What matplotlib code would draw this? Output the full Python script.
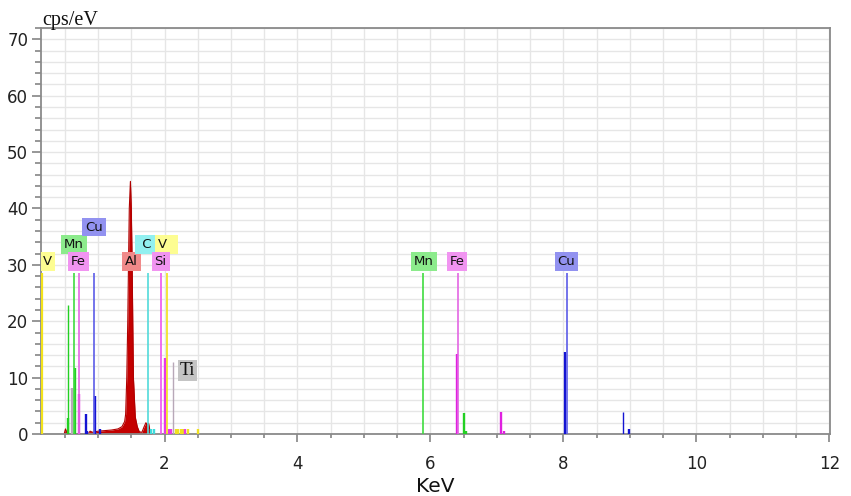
import matplotlib
matplotlib.use('Agg')
import matplotlib.pyplot as plt
from matplotlib.ticker import MultipleLocator

# ---------------- data ----------------
# element marker lines (KLM markers)
marker_element = ['Si', 'V', 'Mn', 'Fe', 'Cu', 'C', 'Si', 'V', 'Mn', 'Fe', 'Cu']
marker_keV = [0.145, 0.158, 0.643, 0.713, 0.944, 1.747, 1.944, 2.040, 5.895, 6.410, 8.050]
marker_cps = [28.5, 28.5, 28.5, 28.5, 28.5, 28.5, 28.5, 28.5, 28.5, 28.5, 28.5]

# spectrum peak lines
peak_element = ['Mn', 'Mn', 'Ti', 'Mn', 'Fe', 'Cu', 'Cu', 'Cu', 'Cu',
                'C', 'C', 'Si', 'Si', 'Si', 'Ti',
                'V', 'V', 'V', 'V', 'Si', 'V', 'V',
                'Fe', 'Mn', 'Mn', 'Fe', 'Fe', 'Cu', 'Cu', 'Cu']
peak_keV = [0.552, 0.552, 0.613, 0.648, 0.718, 0.814, 0.839, 0.948, 1.030,
            1.800, 1.840, 2.008, 2.065, 2.090, 2.123,
            2.175, 2.210, 2.245, 2.280, 2.310, 2.350, 2.510,
            6.400, 6.500, 6.540, 7.060, 7.110, 8.030, 8.900, 8.980]
peak_cps = [22.9, 2.8, 8.2, 11.7, 7.1, 3.6, 0.5, 6.8, 0.8,
            0.8, 0.9, 13.5, 0.9, 0.9, 12.8,
            0.8, 0.8, 0.8, 0.8, 0.8, 0.8, 0.9,
            14.2, 3.7, 0.5, 3.9, 0.5, 14.6, 3.9, 0.9]
peak_thin = [True, False, False, False, False, False, False, False, False,
             False, False, False, False, False, True,
             False, False, False, False, False, False, False,
             False, False, False, False, False, False, True, False]

# measured Al-rich spectrum (filled red)
al_keV = [0.49, 0.51, 0.53, 0.56, 0.85, 0.88, 0.92, 1.00, 1.10, 1.20, 1.30,
          1.36, 1.40, 1.415, 1.432, 1.447, 1.458, 1.47, 1.487, 1.50, 1.513,
          1.522, 1.532, 1.56, 1.59, 1.62, 1.66, 1.69, 1.72, 1.74, 1.76, 1.78, 1.81]
al_cps = [0.0, 0.9, 0.3, 0.0, 0.0, 0.5, 0.3, 0.5, 0.6, 0.7, 0.9,
          1.3, 2.2, 3.5, 10.0, 20.0, 30.0, 40.0, 44.8, 40.0, 30.0,
          20.0, 10.0, 3.0, 1.3, 0.4, 0.3, 1.2, 2.0, 1.6, 1.9, 0.6, 0.0]

# labels
label_text = ['V', 'Mn', 'Fe', 'Cu', 'Al', ' C ', 'V  ', 'Si', 'Mn', 'Fe', 'Cu']
label_element = ['V', 'Mn', 'Fe', 'Cu', 'Al', 'C', 'V', 'Si', 'Mn', 'Fe', 'Cu']
label_keV = [0.24, 0.638, 0.703, 0.939, 1.506, 1.734, 1.895, 1.94, 5.90, 6.40, 8.045]
label_cps = [30.6, 33.6, 30.6, 36.7, 30.6, 33.6, 33.6, 30.6, 30.6, 30.6, 30.6]
label_ha = ['center', 'center', 'center', 'center', 'center', 'center', 'left',
            'center', 'center', 'center', 'center']
ti_keV, ti_cps = 2.346, 11.3

# ---------------- styles ----------------
marker_color = {'Mn': '#3fdc3f', 'Fe': '#e466e4', 'Cu': '#5c5ce8', 'C': '#52dada',
                'V': '#f2e21a', 'Si': '#ee55ee'}
peak_color = {'Mn': '#22d022', 'Fe': '#e020e0', 'Cu': '#1414d2', 'C': '#40dcdc',
              'V': '#f0e020', 'Si': '#e838e8', 'Ti': '#b8a8b8'}
box_color = {'Mn': '#8ceb8c', 'Fe': '#f194f1', 'Cu': '#9292f0', 'C': '#92f0f0',
             'V': '#fdfd92', 'Si': '#f194f1', 'Al': '#f08a8a'}

fig = plt.figure(figsize=(8.51, 4.96), dpi=100)
ax = fig.add_axes([0.0478, 0.125, 0.9275, 0.8185])

ax.set_xlim(0.137, 12.01)
ax.set_ylim(0, 72)

ax.xaxis.set_major_locator(MultipleLocator(2))
ax.xaxis.set_minor_locator(MultipleLocator(0.5))
ax.yaxis.set_major_locator(MultipleLocator(10))
ax.yaxis.set_minor_locator(MultipleLocator(2))
ax.grid(which='both', color='#e6e6e6', lw=1.0, zorder=0)
ax.set_axisbelow(True)

for s in ax.spines.values():
    s.set_color('#8a8a8a')
    s.set_linewidth(1.3)

ax.tick_params(which='both', direction='out', color='#7a7a7a', width=1.1)
ax.tick_params(axis='x', which='major', length=6, pad=9, labelsize=12, labelcolor='#222222')
ax.tick_params(axis='x', which='minor', length=3.2)
ax.tick_params(axis='y', which='major', length=6.5, pad=2.5, labelsize=12, labelcolor='#222222')
ax.tick_params(axis='y', which='minor', length=4)

# filled Al spectrum
ax.fill_between(al_keV, al_cps, 0, color='#c40000', lw=0, zorder=2)
ax.plot(al_keV, al_cps, color='#b00000', lw=0.8, zorder=2)

# peak lines
for el, x, y, thin in zip(peak_element, peak_keV, peak_cps, peak_thin):
    ax.vlines(x, 0, y, color=peak_color[el], lw=1.0 if thin else 1.7, zorder=3)

# marker lines
for el, x, y in zip(marker_element, marker_keV, marker_cps):
    ax.vlines(x, 0, y, color=marker_color[el], lw=1.6 if el == 'V' and x < 0.5 else 1.2, zorder=4)

# labels
for t, el, x, y, ha in zip(label_text, label_element, label_keV, label_cps, label_ha):
    ax.text(x, y, t, ha=ha, va='center', fontsize=9.5, color='#111111',
            family='DejaVu Sans', zorder=6, clip_on=True,
            bbox=dict(boxstyle='square,pad=0.22', fc=box_color[el], ec='none'))

ax.text(ti_keV, ti_cps, 'Ti', ha='center', va='center', fontsize=13,
        family='Liberation Serif', color='#111111', zorder=6,
        bbox=dict(boxstyle='square,pad=0.12', fc='#c4c4c4', ec='none'))

fig.text(42.7 / 851, 1 - 25 / 496, 'cps/eV', ha='left', va='baseline',
         fontsize=14.5, family='Liberation Serif', color='#111111')
fig.text(435 / 851, 1 - 492 / 496, 'KeV', ha='center', va='baseline',
         fontsize=14.5, color='#111111')

fig.savefig('out.png', dpi=100)
